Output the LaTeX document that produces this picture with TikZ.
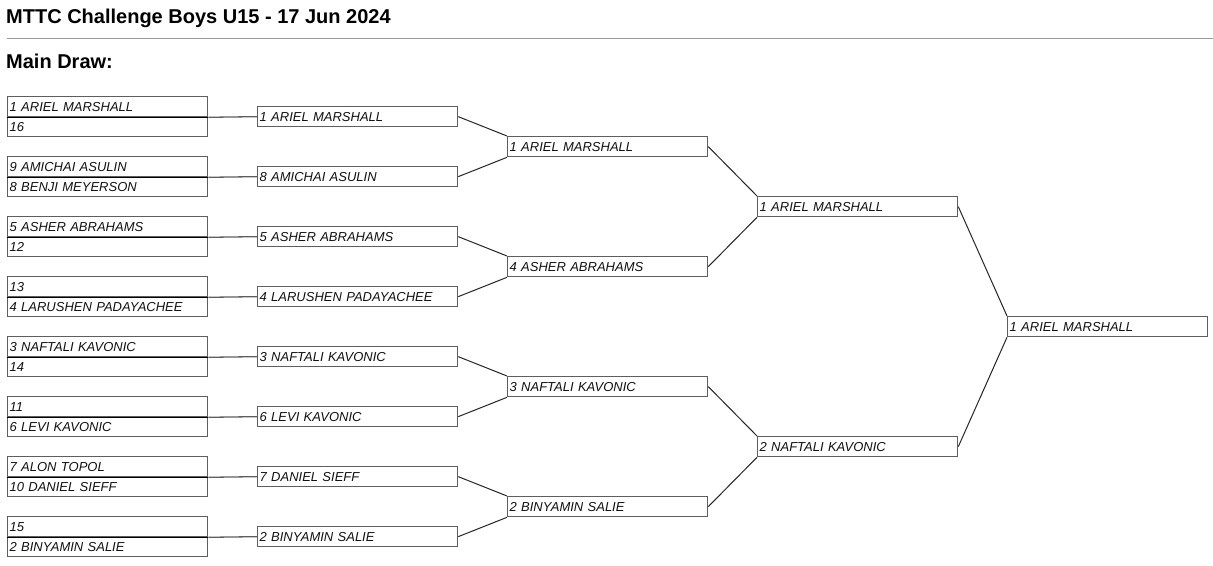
\documentclass[tikz,border=0pt]{standalone}
\usepackage{fontspec}
\setmainfont{Liberation Sans}
\definecolor{boxgray}{HTML}{5E5E5E}
\definecolor{rulegray}{HTML}{9A9A9A}
\definecolor{txt}{HTML}{111111}
\tikzset{
  pbox/.style={draw=boxgray, line width=1.3pt, minimum height=20pt, inner ysep=0pt,
    inner xsep=2pt, text width=196pt, align=left, anchor=north west, text=txt,
    font=\fontsize{13}{15}\selectfont\itshape},
  divider/.style={draw=black, line width=1.5pt},
  hconn/.style={draw=boxgray, line width=1.3pt},
  dconn/.style={draw=black!85, line width=1pt},
  heading/.style={anchor=base west, inner sep=0pt, text=black, font=\fontsize{20}{22}\selectfont\bfseries}
}
\begin{document}
\begin{tikzpicture}[x=1pt,y=-1pt]
\useasboundingbox[fill=white] (0,0) rectangle (1213,565);
\node[heading] (title) at (6,23) {MTTC Challenge Boys U15 - 17 Jun 2024};
\coordinate (rulel) at (7,38.3);
\coordinate (ruler) at (1213,38.3);
\draw[rulegray, line width=1.5pt] (rulel) -- (ruler);
\node[heading] (main) at (6,68) {Main Draw:};
% Round 1
\foreach \k/\a/\b in {0/1 ARIEL MARSHALL/16, 1/9 AMICHAI ASULIN/8 BENJI MEYERSON, 2/5 ASHER ABRAHAMS/12, 3/13/4 LARUSHEN PADAYACHEE, 4/3 NAFTALI KAVONIC/14, 5/11/6 LEVI KAVONIC, 6/7 ALON TOPOL/10 DANIEL SIEFF, 7/15/2 BINYAMIN SALIE}{
  \node[pbox] (rt\k) at (7,{96+60*\k}) {\a};
  \node[pbox] (rb\k) at (7,{116+60*\k}) {\b};
  \draw[divider] (rt\k.south west) -- (rt\k.south east);
}
% Round 2
\foreach \k/\a in {0/1 ARIEL MARSHALL, 1/8 AMICHAI ASULIN, 2/5 ASHER ABRAHAMS, 3/4 LARUSHEN PADAYACHEE, 4/3 NAFTALI KAVONIC, 5/6 LEVI KAVONIC, 6/7 DANIEL SIEFF, 7/2 BINYAMIN SALIE}{
  \node[pbox] (q\k) at (257,{106+60*\k}) {\a};
  \draw[hconn] (rt\k.south east) -- (q\k.west);
}
% Round 3
\foreach \k/\a in {0/1 ARIEL MARSHALL, 1/4 ASHER ABRAHAMS, 2/3 NAFTALI KAVONIC, 3/2 BINYAMIN SALIE}{
  \node[pbox] (s\k) at (507,{136+120*\k}) {\a};
}
% Round 4
\node[pbox] (u0) at (757,196) {1 ARIEL MARSHALL};
\node[pbox] (u1) at (757,436) {2 NAFTALI KAVONIC};
% Final
\node[pbox] (f) at (1007,316) {1 ARIEL MARSHALL};
% Connectors
\draw[dconn] (q0.east) -- (s0.north west);
\draw[dconn] (q1.east) -- (s0.south west);
\draw[dconn] (q2.east) -- (s1.north west);
\draw[dconn] (q3.east) -- (s1.south west);
\draw[dconn] (q4.east) -- (s2.north west);
\draw[dconn] (q5.east) -- (s2.south west);
\draw[dconn] (q6.east) -- (s3.north west);
\draw[dconn] (q7.east) -- (s3.south west);
\draw[dconn] (s0.east) -- (u0.north west);
\draw[dconn] (s1.east) -- (u0.south west);
\draw[dconn] (s2.east) -- (u1.north west);
\draw[dconn] (s3.east) -- (u1.south west);
\draw[dconn] (u0.east) -- (f.north west);
\draw[dconn] (u1.east) -- (f.south west);
\end{tikzpicture}
\end{document}
